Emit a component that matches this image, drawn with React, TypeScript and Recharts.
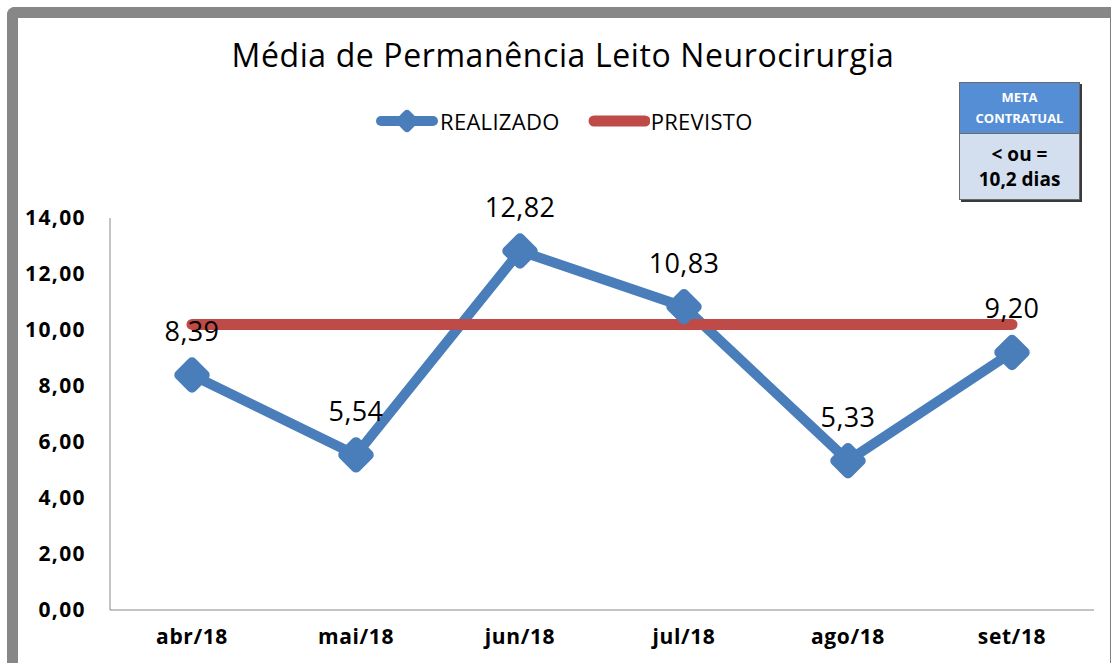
import { LineChart, Line, XAxis, YAxis, LabelList } from "recharts";

const months = ["abr/18", "mai/18", "jun/18", "jul/18", "ago/18", "set/18"];
const realizado = [8.39, 5.54, 12.82, 10.83, 5.33, 9.2];
const previsto = [10.2, 10.2, 10.2, 10.2, 10.2, 10.2];
const yTicks = [0, 2, 4, 6, 8, 10, 12, 14];

const data = months.map((mes, i) => ({
  mes,
  realizado: realizado[i],
  previsto: previsto[i],
}));

const BLUE = "#4A7EBB";
const RED = "#BE4B48";
const FONT = "'Open Sans', Lato, sans-serif";

const fmt = (v: number) => Number(v).toFixed(2).replace(".", ",");

function Diamond(props: any) {
  const { cx, cy } = props;
  if (cx == null || cy == null) return null;
  return (
    <rect
      x={cx - 12}
      y={cy - 12}
      width={24}
      height={24}
      rx={3}
      fill={BLUE}
      stroke={BLUE}
      strokeWidth={4}
      strokeLinejoin="round"
      transform={`rotate(45 ${cx} ${cy})`}
    />
  );
}

function LegendBlock() {
  return (
    <div
      style={{
        position: "absolute",
        top: 107,
        left: 376,
        height: 28,
        display: "flex",
        alignItems: "center",
        fontFamily: FONT,
        fontSize: 22,
        letterSpacing: 0.3,
        color: "#000",
        zIndex: 2,
      }}
    >
      <svg width={62} height={28}>
        <line x1={5} y1={14} x2={57} y2={14} stroke={BLUE} strokeWidth={10} strokeLinecap="round" />
        <rect x={24} y={7} width={14} height={14} rx={2} fill={BLUE} stroke={BLUE} strokeWidth={4}
          strokeLinejoin="round" transform="rotate(45 31 14)" />
      </svg>
      <span style={{ marginLeft: 2, marginRight: 28 }}>REALIZADO</span>
      <svg width={62} height={28}>
        <line x1={6} y1={14} x2={57} y2={14} stroke={RED} strokeWidth={11} strokeLinecap="round" />
      </svg>
      <span style={{ marginLeft: 1 }}>PREVISTO</span>
    </div>
  );
}

function MetaBox() {
  return (
    <div
      style={{
        position: "absolute",
        left: 959,
        top: 82,
        width: 121,
        height: 118,
        fontFamily: FONT,
        fontWeight: 700,
        textAlign: "center",
        border: "1px solid #6a6a6a",
        boxShadow: "2px 2px 0 #3a3a3a",
        zIndex: 2,
        boxSizing: "border-box",
      }}
    >
      <div
        style={{
          height: 51,
          background: "#558ED5",
          color: "#fff",
          fontSize: 13,
          lineHeight: "21px",
          paddingTop: 4,
          boxSizing: "border-box",
          borderBottom: "1px solid #6a6a6a",
        }}
      >
        META
        <br />
        CONTRATUAL
      </div>
      <div
        style={{
          height: 65,
          background: "#D3DFEE",
          color: "#000",
          fontSize: 19,
          lineHeight: "25px",
          paddingTop: 8,
          boxSizing: "border-box",
        }}
      >
        &lt; ou =
        <br />
        10,2 dias
      </div>
    </div>
  );
}

export default function App() {
  return (
    <div
      style={{
        position: "absolute",
        left: 0,
        top: 0,
        width: 1111,
        height: 663,
        overflow: "hidden",
        background: "#fff",
      }}
    >
      <div
        style={{
          position: "absolute",
          left: 7,
          top: 7,
          width: 1104,
          height: 700,
          boxSizing: "border-box",
          borderLeft: "11px solid #878787",
          borderTop: "11px solid #878787",
          borderRight: "1px solid #7f7f7f",
          borderTopLeftRadius: 8,
        }}
      />
      <div
        style={{
          position: "absolute",
          top: 33,
          left: 222,
          width: 682,
          textAlign: "center",
          fontFamily: FONT,
          fontSize: 32,
          lineHeight: "44px",
          letterSpacing: 0.6,
          whiteSpace: "nowrap",
          color: "#000",
          zIndex: 2,
        }}
      >
        Média de Permanência Leito Neurocirurgia
      </div>
      <LegendBlock />
      <MetaBox />
      <div style={{ position: "absolute", left: 0, top: 0 }}>
        <LineChart
          width={1111}
          height={663}
          data={data}
          margin={{ top: 218, right: 17, bottom: 13, left: 0 }}
        >
          <XAxis
            dataKey="mes"
            height={40}
            padding={{ left: 82, right: 82 }}
            tickLine={false}
            axisLine={{ stroke: "#888" }}
            tickMargin={13}
            tick={{ fontFamily: FONT, fontSize: 21, fontWeight: 700, fill: "#000", letterSpacing: 0.6 }}
          />
          <YAxis
            width={110}
            domain={[0, 14]}
            ticks={yTicks}
            interval={0}
            tickFormatter={fmt}
            tickLine={false}
            axisLine={{ stroke: "#888" }}
            tickMargin={18}
            tick={{ fontFamily: FONT, fontSize: 21, fontWeight: 700, fill: "#000", letterSpacing: 1.4 }}
          />
          <Line
            dataKey="realizado"
            name="REALIZADO"
            stroke={BLUE}
            strokeWidth={10}
            strokeLinejoin="round"
            dot={<Diamond />}
            activeDot={false}
            isAnimationActive={false}
          />
          <Line
            dataKey="previsto"
            name="PREVISTO"
            stroke={RED}
            strokeWidth={11}
            strokeLinecap="round"
            dot={false}
            activeDot={false}
            isAnimationActive={false}
          />
          <Line
            dataKey="realizado"
            stroke="none"
            dot={false}
            activeDot={false}
            legendType="none"
            isAnimationActive={false}
          >
            <LabelList
              dataKey="realizado"
              position="top"
              offset={34}
              formatter={(v: any) => fmt(v)}
              style={{ fontFamily: FONT, fontSize: 27, fill: "#000", letterSpacing: 0.4 }}
            />
          </Line>
        </LineChart>
      </div>
    </div>
  );
}
